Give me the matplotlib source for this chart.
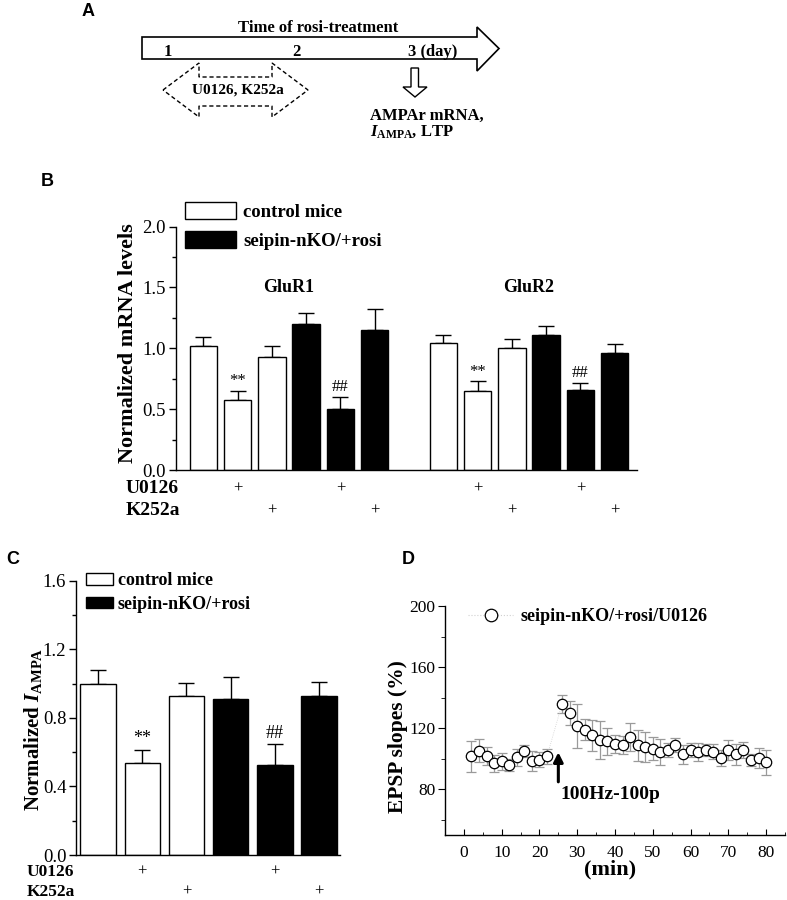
"""Figure: AMPAr mRNA, I_AMPA and LTP after rosi-treatment with U0126 / K252a."""
import numpy as np
import matplotlib
matplotlib.use("Agg")
import matplotlib.pyplot as plt
from matplotlib.patches import Polygon, Patch
from matplotlib.lines import Line2D
from matplotlib.ticker import MultipleLocator, FormatStrFormatter

plt.rcParams['font.family'] = ['Liberation Serif', 'DejaVu Serif']
plt.rcParams['mathtext.fontset'] = 'custom'
plt.rcParams['mathtext.rm'] = 'Liberation Serif:bold'
plt.rcParams['mathtext.it'] = 'Liberation Serif:italic:bold'
plt.rcParams['mathtext.bf'] = 'Liberation Serif:bold'
plt.rcParams['axes.linewidth'] = 1.0

## DATA
## ====
groups = ['GluR1', 'GluR2']
series = ['control mice', 'seipin-nKO/+rosi']
u0126_row = ['', '+', '', '', '+', '']
k252a_row = ['', '', '+', '', '', '+']

# panel B: normalized mRNA levels (vehicle, U0126, K252a) per group
glur1_ctrl = [1.02, 0.576, 0.925]
glur1_ctrl_err = [0.07, 0.075, 0.095]
glur1_ko = [1.20, 0.505, 1.15]
glur1_ko_err = [0.09, 0.095, 0.17]
glur2_ctrl = [1.045, 0.647, 1.00]
glur2_ctrl_err = [0.065, 0.08, 0.075]
glur2_ko = [1.11, 0.653, 0.957]
glur2_ko_err = [0.075, 0.06, 0.08]
marks_b = ['', '**', '', '', '##', '']

# panel C: normalized I_AMPA
iampa_ctrl = [0.995, 0.535, 0.929]
iampa_ctrl_err = [0.085, 0.08, 0.076]
iampa_ko = [0.908, 0.527, 0.925]
iampa_ko_err = [0.128, 0.118, 0.085]

# panel D: EPSP slopes (%) of seipin-nKO/+rosi/U0126
t_min = [2, 4, 6, 8, 10, 12, 14, 16, 18, 20, 22,
         26, 28, 30, 32, 34, 36, 38, 40, 42, 44, 46, 48, 50, 52,
         54, 56, 58, 60, 62, 64, 66, 68, 70, 72, 74, 76, 78, 80]
epsp = [101.5, 105.2, 101.8, 96.9, 98.2, 95.8, 101.0, 105.2, 98.3, 99.4, 101.5,
        136.0, 130.1, 121.6, 119.1, 115.3, 112.4, 111.3, 109.7, 109.1, 114.2, 108.7, 107.6, 106.4, 104.1,
        105.9, 108.9, 102.8, 105.6, 104.5, 105.6, 104.5, 100.5, 105.8, 102.8, 105.6, 99.0, 100.6, 97.5]
epsp_err = [10, 7.5, 6, 5.5, 5.5, 4.2, 5.5, 4, 6.5, 5, 5,
            6, 8, 14.5, 7, 10, 12.5, 9, 6, 6, 9, 10, 10, 7.5, 8.5,
            4.5, 4.5, 6, 4.5, 6, 4, 5, 5, 6.5, 7, 5, 4, 6.5, 8.5]
hfs_time = 25


fig = plt.figure(figsize=(7.87, 9.0), dpi=100)

# overlay in pixel units for panel A drawing and panel letters
ov = fig.add_axes([0, 0, 1, 1], zorder=-1)
ov.set_xlim(0, 787)
ov.set_ylim(900, 0)
ov.axis('off')

for letter, (lx, ly) in zip('ABCD', [(88, 12), (47, 182), (13, 560), (408, 560)]):
    ov.text(lx, ly, letter, family='Liberation Sans', fontweight='bold',
            fontsize=13, ha='center', va='center')

# Panel A -------------------------------------------------------------- #
big = Polygon([(142, 37), (477, 37), (477, 27), (499, 48.5), (477, 71),
               (477, 59), (142, 59)], closed=True, fc='white', ec='black', lw=1.2)
ov.add_patch(big)
dbl = Polygon([(163, 90), (199, 63), (199, 77), (272, 77), (272, 63), (308, 90),
               (272, 117), (272, 106), (199, 106), (199, 117)], closed=True,
              fc='white', ec='black', lw=1.0, ls=(0, (3, 2)))
ov.add_patch(dbl)
down = Polygon([(411, 68), (418.5, 68), (418.5, 87), (427, 87), (415, 97),
                (403, 87), (411, 87)], closed=True, fc='white', ec='black', lw=1.0)
ov.add_patch(down)
ov.text(318, 28, 'Time of rosi-treatment', fontsize=12, fontweight='bold', ha='center', va='center')
ov.text(168, 52, '1', fontsize=12, fontweight='bold', ha='center', va='center')
ov.text(296, 52, '2', fontsize=12, fontweight='bold', ha='center', va='center')
ov.text(408, 52, '3 (day)', fontsize=12, fontweight='bold', ha='left', va='center')
ov.text(238, 90, 'U0126, K252a', fontsize=11, fontweight='bold', ha='center', va='center')
ov.text(370, 120, 'AMPAr mRNA,', fontsize=12, fontweight='bold', ha='left', va='baseline')
ov.text(370, 135.5, r'$I_{\mathbf{AMPA}}$, LTP', fontsize=12, fontweight='bold', ha='left', va='baseline')


def bar_panel(ax, ctrl, ctrl_err, ko, ko_err, pos, marks, mark_fs):
    """White bars for control, black bars for seipin-nKO/+rosi, upper error bars only."""
    vals = list(ctrl) + list(ko)
    errs = list(ctrl_err) + list(ko_err)
    colors = ['white'] * len(ctrl) + ['black'] * len(ko)
    ax.bar(pos, vals, width=0.8, color=colors, edgecolor='black', linewidth=1.0, zorder=2)
    ax.errorbar(pos, vals, yerr=[np.zeros(len(errs)), errs], fmt='none',
                ecolor='black', elinewidth=1.0, capsize=6, capthick=1.0, zorder=1)
    for p, v, e, m in zip(pos, vals, errs, marks):
        if m:
            ax.text(p, v + e + 0.015, m, fontsize=mark_fs, ha='center', va='bottom')


def style_axes(ax, fs):
    ax.spines['top'].set_visible(False)
    ax.spines['right'].set_visible(False)
    ax.tick_params(axis='x', which='both', bottom=False, labelbottom=False)
    ax.tick_params(axis='y', which='major', direction='out', length=5, width=1.0,
                   pad=2, labelsize=fs)
    ax.tick_params(axis='y', which='minor', direction='out', length=3, width=1.0)


# Panel B -------------------------------------------------------------- #
axB = fig.add_axes([175.5 / 787, 1 - 470 / 900, 461.5 / 787, 243.5 / 900])
pos1 = np.arange(6)
pos2 = np.arange(6) + 7
bar_panel(axB, glur1_ctrl, glur1_ctrl_err, glur1_ko, glur1_ko_err, pos1, marks_b, 12)
bar_panel(axB, glur2_ctrl, glur2_ctrl_err, glur2_ko, glur2_ko_err, pos2, marks_b, 12)
axB.set_xlim(-0.81, 12.65)
axB.set_ylim(0, 2.0)
axB.yaxis.set_major_locator(MultipleLocator(0.5))
axB.yaxis.set_minor_locator(MultipleLocator(0.25))
axB.yaxis.set_major_formatter(FormatStrFormatter('%.1f'))
style_axes(axB, 13.5)
axB.set_ylabel('Normalized mRNA levels', fontsize=16, fontweight='bold')
axB.yaxis.set_label_coords(-0.081, 0.52)
axB.text(np.mean(pos1), 1.5, groups[0], fontsize=13, fontweight='bold', ha='center', va='center')
axB.text(np.mean(pos2), 1.5, groups[1], fontsize=13, fontweight='bold', ha='center', va='center')
hB = [Patch(fc='white', ec='black', lw=1.0), Patch(fc='black', ec='black', lw=1.0)]
axB.legend(hB, series, loc='upper left', bbox_to_anchor=(0.0206, 1.102), frameon=False,
           prop={'weight': 'bold', 'size': 13.5}, handlelength=2.7, handleheight=1.05,
           handletextpad=0.4, labelspacing=0.55, borderpad=0, borderaxespad=0)
xt = axB.get_xaxis_transform()
axB.text(-0.109, -0.078, 'U0126', transform=axB.transAxes, fontsize=14, fontweight='bold', ha='left', va='center')
axB.text(-0.109, -0.168, 'K252a', transform=axB.transAxes, fontsize=14, fontweight='bold', ha='left', va='center')
for p, u, k in zip(np.concatenate([pos1, pos2]), u0126_row * 2, k252a_row * 2):
    axB.text(p, -0.076, u, transform=xt, fontsize=12, ha='center', va='center')
    axB.text(p, -0.166, k, transform=xt, fontsize=12, ha='center', va='center')

# Panel C -------------------------------------------------------------- #
axC = fig.add_axes([76 / 787, 1 - 855 / 900, 264 / 787, 274.3 / 900])
posC = np.arange(6)
bar_panel(axC, iampa_ctrl, iampa_ctrl_err, iampa_ko, iampa_ko_err, posC, marks_b, 13)
axC.set_xlim(-0.5, 5.475)
axC.set_ylim(0, 1.6)
axC.yaxis.set_major_locator(MultipleLocator(0.4))
axC.yaxis.set_minor_locator(MultipleLocator(0.2))
axC.yaxis.set_major_formatter(FormatStrFormatter('%.1f'))
style_axes(axC, 13.5)
axC.set_ylabel(r'Normalized $I_{\mathbf{AMPA}}$', fontsize=15, fontweight='bold')
axC.yaxis.set_label_coords(-0.12, 0.46)
hC = [Patch(fc='white', ec='black', lw=1.0), Patch(fc='black', ec='black', lw=1.0)]
axC.legend(hC, series, loc='upper left', bbox_to_anchor=(0.038, 1.03), frameon=False,
           prop={'weight': 'bold', 'size': 13}, handlelength=1.5, handleheight=0.6,
           handletextpad=0.25, labelspacing=0.35, borderpad=0, borderaxespad=0)
xtC = axC.get_xaxis_transform()
axC.text(-0.186, -0.062, 'U0126', transform=axC.transAxes, fontsize=12.5, fontweight='bold', ha='left', va='center')
axC.text(-0.186, -0.135, 'K252a', transform=axC.transAxes, fontsize=12.5, fontweight='bold', ha='left', va='center')
for p, u, k in zip(posC, u0126_row, k252a_row):
    axC.text(p, -0.062, u, transform=xtC, fontsize=12, ha='center', va='center')
    axC.text(p, -0.135, k, transform=xtC, fontsize=12, ha='center', va='center')

# Panel D -------------------------------------------------------------- #
axD = fig.add_axes([445 / 787, 1 - 835 / 900, 340 / 787, 229 / 900])
axD.errorbar(t_min, epsp, yerr=epsp_err, fmt='none', ecolor='#9a9a9a',
             elinewidth=0.9, capsize=3.5, capthick=0.9, zorder=1)
axD.plot(t_min, epsp, ls=':', color='#d0d0d0', lw=0.6, marker='o', ms=7.5,
         mfc='white', mec='black', mew=0.9, zorder=2)
axD.set_xlim(-5, 85)
axD.set_ylim(50, 200)
axD.xaxis.set_major_locator(MultipleLocator(10))
axD.xaxis.set_minor_locator(MultipleLocator(5))
axD.yaxis.set_major_locator(MultipleLocator(40))
axD.yaxis.set_minor_locator(MultipleLocator(20))
axD.spines['top'].set_visible(False)
axD.spines['right'].set_visible(False)
axD.tick_params(axis='x', which='major', direction='in', length=4, pad=7, labelsize=12.5)
axD.tick_params(axis='x', which='minor', direction='in', length=2)
axD.tick_params(axis='y', which='major', direction='out', length=5, pad=2, labelsize=12.5)
axD.tick_params(axis='y', which='minor', direction='out', length=3)
axD.set_ylabel('EPSP slopes (%)', fontsize=15.5, fontweight='bold')
axD.yaxis.set_label_coords(-0.109, 0.43)
axD.set_xlabel('(min)', fontsize=16, fontweight='bold')
axD.xaxis.set_label_coords(0.485, -0.108)
axD.annotate('', xy=(hfs_time, 106), xytext=(hfs_time, 83),
             arrowprops=dict(arrowstyle='-|>', color='black', lw=2.2, mutation_scale=14))
axD.text(hfs_time + 0.6, 76.5, '100Hz-100p', fontsize=14, fontweight='bold', ha='left', va='center')
hD = [Line2D([], [], ls=':', color='#d0d0d0', lw=0.8, marker='o', ms=9,
             mfc='white', mec='black', mew=0.9)]
axD.legend(hD, ['seipin-nKO/+rosi/U0126'], loc='center left', bbox_to_anchor=(0.068, 0.952),
           frameon=False, prop={'weight': 'bold', 'size': 13}, handlelength=2.5,
           handletextpad=0.4, borderpad=0, borderaxespad=0)

fig.savefig('out.png', dpi=100)
